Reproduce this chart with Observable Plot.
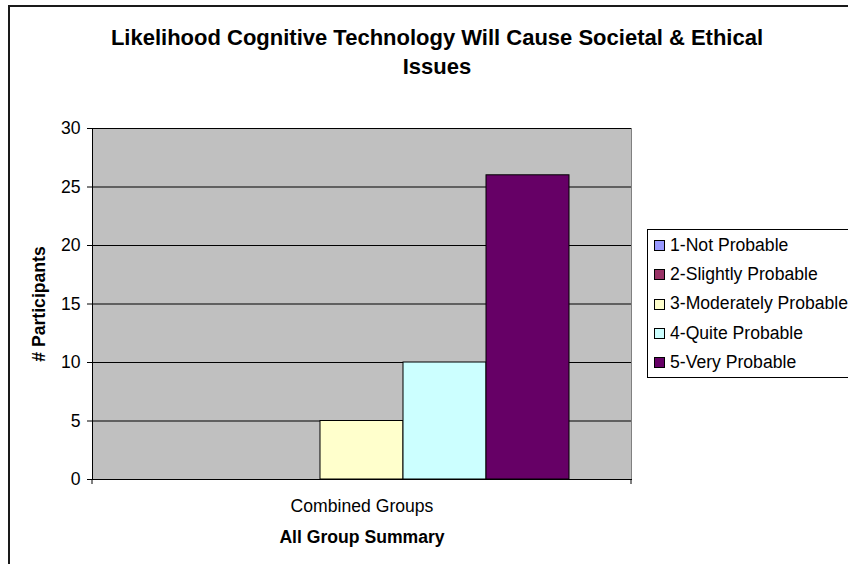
<!DOCTYPE html>
<html>
<head>
<meta charset="utf-8">
<script src="https://cdn.jsdelivr.net/npm/d3@7"></script>
<script src="https://cdn.jsdelivr.net/npm/@observablehq/plot@0.6"></script>
<style>
  html, body { margin: 0; padding: 0; background: #fff; }
  #chart { position: relative; width: 848px; height: 564px; overflow: hidden; font-family: "Liberation Sans", Arial, sans-serif; }
  #chart svg { position: absolute; left: 0; top: 0; }
  #border { position: absolute; left: 8px; top: 5px; right: -20px; bottom: -20px; border: 2px solid #1a1a1a; pointer-events: none; }
  #title { position: absolute; left: 100px; width: 674px; top: 23px; text-align: center; font-weight: bold; font-size: 22px; line-height: 29px; color: #000; }
  #legend { position: absolute; left: 647px; top: 229px; right: -20px; border: 1px solid #000; background: #fff; padding: 1px 0 0 6px; font-size: 17.6px; line-height: 29.2px; }
  #legend .item { display: flex; align-items: center; white-space: nowrap; }
  #legend .sw { width: 9px; height: 9px; border: 1px solid #000; margin-right: 5px; flex: none; }
  [aria-label="y-axis label"], [aria-label="fx-axis label"] { font-weight: bold; }
</style>
</head>
<body>
<div id="chart">
  <div id="border"></div>
  <div id="title"></div>
  <div id="legend"></div>
</div>
<script>
// Survey responses: how likely cognitive technology is to cause societal & ethical issues
const titleText = "Likelihood Cognitive Technology Will Cause Societal & Ethical Issues";
const categories = ["Combined Groups"];
const levels = ["1-Not Probable", "2-Slightly Probable", "3-Moderately Probable", "4-Quite Probable", "5-Very Probable"];
const counts = [0, 0, 5, 10, 26];
const levelColors = ["#9999FF", "#993366", "#FFFFCC", "#CCFFFF", "#660066"];
const yTicks = [0, 5, 10, 15, 20, 25, 30];
const xTitle = "All Group Summary";
const yTitle = "# Participants";

const rows = levels.map((level, i) => ({group: categories[0], level, count: counts[i]}));

// Short tick marks at the edges of each category band, below the baseline
function categoryEdgeTicks(index, scales, values, dimensions) {
  const {width, height, marginLeft, marginRight, marginBottom} = dimensions;
  const y0 = height - marginBottom;
  const g = d3.create("svg:g").attr("stroke", "#000").attr("stroke-width", 1);
  for (const x of [marginLeft, width - marginRight]) {
    g.append("line").attr("x1", x).attr("x2", x).attr("y1", y0).attr("y2", y0 + 5);
  }
  return g.node();
}

const chart = Plot.plot({
  width: 848,
  height: 564,
  marginLeft: 92,
  marginRight: 217,
  marginTop: 128,
  marginBottom: 85,
  style: {fontFamily: "'Liberation Sans', Arial, sans-serif", fontSize: "17.6px", background: "transparent", color: "#000"},
  fx: {domain: categories, padding: 0},
  x: {domain: levels, paddingInner: 0, paddingOuter: 0.74, axis: null},
  y: {domain: [0, 30]},
  color: {domain: levels, range: levelColors},
  marks: [
    Plot.frame({fill: "#C0C0C0", stroke: "#808080"}),
    Plot.gridY(yTicks, {stroke: "#000", strokeOpacity: 1}),
    Plot.barY(rows, {fx: "group", x: "level", y: "count", fill: "level", stroke: "#000", strokeWidth: 1}),
    Plot.frame({anchor: "left", stroke: "#000"}),
    Plot.frame({anchor: "bottom", stroke: "#000"}),
    Plot.axisY(yTicks, {tickSize: 5, tickPadding: 7, label: yTitle, labelAnchor: "center", labelArrow: "none", labelOffset: 60}),
    Plot.axisFx({anchor: "bottom", tickSize: 0, tickPadding: 20, label: xTitle, labelAnchor: "center", labelArrow: "none", labelOffset: 63}),
    categoryEdgeTicks
  ]
});

const root = document.getElementById("chart");
root.insertBefore(chart, root.firstChild);

document.getElementById("title").textContent = titleText;

const legend = d3.select("#legend");
levels.forEach((level, i) => {
  const item = legend.append("div").attr("class", "item");
  item.append("span").attr("class", "sw").style("background", levelColors[i]);
  item.append("span").text(level);
});
</script>
</body>
</html>
